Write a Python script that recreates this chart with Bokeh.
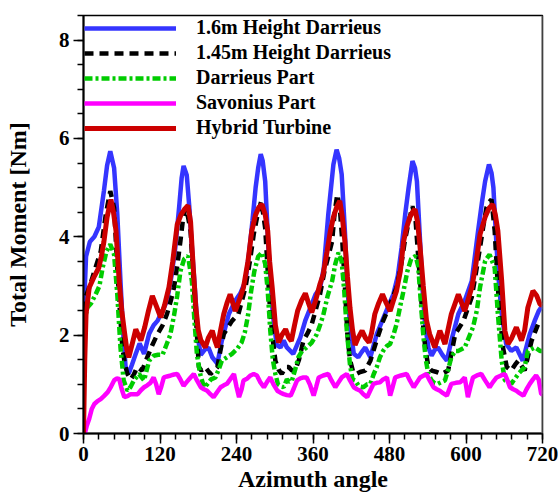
from bokeh.plotting import figure
from bokeh.models import SingleIntervalTicker, Legend, LegendItem, Span
from bokeh.embed import file_html
from bokeh.resources import INLINE

# ---------------- data ----------------
blue_x = [0, 4, 10, 17, 24, 32, 37, 42, 48, 53, 58, 62, 66, 71, 76, 82, 88, 95, 103, 110, 116, 124, 131, 138, 144,
          150, 154, 157, 162, 166, 170, 175, 180, 184, 190, 196, 202, 210, 217, 228, 238, 246, 254, 260, 265, 270,
          274, 278, 281, 285, 290, 297, 303, 309, 314, 319, 329, 340, 348, 356, 364, 371, 377, 384, 392, 397, 401,
          405, 410, 414, 418, 424, 431, 436, 442, 450, 460, 473, 486, 493, 499, 505, 510, 516, 520, 523, 528, 532,
          536, 541, 546, 551, 556, 563, 570, 577, 588, 598, 609, 619, 625, 630, 636, 640, 643, 648, 652, 656, 663,
          671, 679, 689, 700, 708, 714, 720]
blue_y = [2.3, 3.6, 3.9, 4.0, 4.2, 4.93, 5.45, 5.74, 5.4, 4.46, 3.1, 2.1, 1.35, 1.22, 1.4, 1.62, 1.83, 1.62, 2.03,
          2.2, 2.29, 2.5, 2.7, 3.2, 3.78, 4.6, 5.2, 5.44, 5.25, 4.6, 3.8, 2.9, 1.9, 1.6, 1.7, 1.75, 1.55, 1.42, 1.89,
          2.43, 2.7, 2.85, 3.1, 3.7, 4.32, 5.0, 5.4, 5.68, 5.55, 5.13, 3.78, 2.43, 1.8, 1.75, 1.89, 1.75, 1.62, 1.95,
          2.3, 2.56, 2.83, 2.95, 3.37, 4.46, 5.47, 5.77, 5.6, 5.27, 4.12, 3.0, 2.2, 1.62, 1.55, 1.65, 1.75, 1.55,
          2.02, 2.43, 2.83, 3.2, 3.78, 4.5, 5.0, 5.54, 5.4, 5.13, 3.9, 2.9, 2.2, 1.75, 1.58, 1.7, 1.75, 1.6, 1.48,
          1.89, 2.43, 2.7, 3.1, 4.12, 4.7, 5.13, 5.47, 5.3, 5.0, 3.78, 3.0, 2.43, 1.82, 1.68, 1.75, 1.48, 2.02, 2.3,
          2.49, 2.6]

black_x = [0, 4, 10, 17, 27, 35, 42, 48, 53, 57, 61, 65, 69, 74, 79, 84, 92, 100, 108, 116, 124, 131, 137, 142,
           147, 152, 156, 160, 164, 168, 172, 176, 181, 185, 191, 199, 205, 210, 215, 220, 226, 233, 243, 254, 261,
           267, 273, 279, 285, 289, 293, 297, 301, 306, 311, 317, 322, 327, 332, 338, 345, 352, 358, 364, 371, 378,
           384, 390, 394, 398, 402, 406, 410, 414, 418, 423, 428, 434, 442, 450, 460, 470, 480, 491, 498, 504, 510,
           516, 521, 525, 528, 532, 536, 541, 546, 554, 562, 572, 583, 596, 609, 616, 622, 627, 632, 636, 640, 645,
           650, 654, 658, 664, 671, 677, 682, 692, 703, 713, 720]
black_y = [2.5, 2.8, 3.0, 3.3, 3.7, 4.46, 4.93, 4.59, 3.37, 2.5, 1.75, 1.4, 1.21, 1.1, 1.2, 1.35, 1.28, 1.55, 1.8,
           2.02, 2.2, 2.43, 2.7, 2.97, 3.4, 3.91, 4.35, 4.59, 4.4, 4.12, 3.2, 2.43, 1.35, 1.28, 1.35, 1.21, 1.28,
           1.35, 1.7, 2.02, 2.15, 2.29, 2.43, 2.97, 3.5, 4.05, 4.45, 4.73, 4.18, 3.3, 2.43, 1.9, 1.48, 1.3, 1.21,
           1.35, 1.35, 1.28, 1.28, 1.5, 1.89, 2.05, 2.22, 2.5, 2.83, 3.3, 3.6, 3.91, 4.5, 4.86, 4.6, 3.9, 3.0, 2.0,
           1.5, 1.25, 1.21, 1.25, 1.28, 1.48, 1.9, 2.29, 2.6, 2.97, 3.4, 3.91, 4.3, 4.62, 4.32, 3.6, 3.1, 2.3, 1.75,
           1.35, 1.28, 1.25, 1.21, 1.28, 2.02, 2.29, 2.77, 3.3, 3.78, 4.2, 4.59, 4.7, 4.76, 4.12, 2.97, 2.3, 1.75,
           1.35, 1.28, 1.4, 1.48, 1.28, 1.89, 2.22, 2.25]

green_x = [0, 6, 12, 19, 25, 30, 36, 42, 48, 53, 58, 63, 69, 74, 79, 87, 95, 103, 110, 117, 124, 130, 136, 142,
           147, 152, 158, 164, 170, 174, 178, 183, 189, 194, 200, 207, 212, 217, 225, 233, 241, 248, 253, 258, 263,
           268, 274, 280, 285, 289, 293, 297, 301, 305, 310, 314, 319, 323, 327, 332, 337, 343, 350, 358, 366, 371,
           376, 383, 390, 395, 400, 405, 409, 413, 418, 422, 426, 432, 439, 445, 450, 455, 460, 465, 470, 476, 481,
           486, 491, 497, 502, 508, 514, 521, 525, 529, 533, 537, 541, 546, 551, 556, 562, 567, 572, 577, 583, 588,
           598, 611, 617, 622, 630, 637, 645, 650, 656, 661, 671, 682, 692, 697, 708, 716, 720]
green_y = [2.2, 2.56, 2.65, 2.83, 3.0, 3.37, 3.7, 3.85, 3.64, 2.83, 1.75, 1.08, 0.87, 0.95, 1.08, 1.21, 1.08, 1.48,
           1.58, 1.6, 1.6, 1.8, 2.0, 2.4, 2.8, 3.3, 3.55, 3.61, 3.1, 2.3, 1.6, 1.21, 0.94, 1.0, 1.1, 1.14, 1.3, 1.48,
           1.55, 1.62, 1.72, 1.85, 2.05, 2.4, 2.9, 3.3, 3.6, 3.68, 3.45, 2.9, 2.09, 1.5, 1.21, 1.0, 0.96, 0.94, 1.1,
           1.05, 1.08, 1.3, 1.55, 1.68, 1.75, 1.85, 2.02, 2.2, 2.4, 2.8, 3.1, 3.45, 3.68, 3.5, 2.9, 2.1, 1.4, 1.1,
           1.08, 0.96, 0.94, 1.0, 1.01, 1.2, 1.35, 1.55, 1.68, 1.78, 1.82, 2.0, 2.22, 2.6, 2.9, 3.3, 3.55, 3.61, 3.4,
           2.7, 2.0, 1.5, 1.2, 1.08, 1.02, 1.01, 1.05, 1.08, 1.3, 1.55, 1.68, 1.68, 1.75, 2.16, 2.5, 2.97, 3.51, 3.64,
           3.37, 2.43, 1.48, 1.08, 1.01, 1.21, 1.35, 1.68, 1.75, 1.68, 1.68]

magenta_x = [2, 5, 9, 13, 17, 22, 27, 32, 38, 43, 48, 52, 56, 60, 64, 69, 74, 79, 85, 90, 95, 100, 105, 110, 114,
             118, 122, 126, 131, 137, 142, 147, 152, 157, 162, 168, 173, 178, 184, 189, 194, 199, 204, 210, 215,
             220, 225, 230, 236, 240, 244, 248, 251, 257, 262, 267, 272, 277, 283, 288, 293, 298, 304, 309, 314,
             319, 325, 330, 335, 340, 345, 350, 355, 361, 365, 369, 376, 384, 389, 395, 400, 405, 413, 418, 424,
             429, 434, 439, 445, 450, 455, 460, 465, 470, 476, 481, 485, 489, 498, 507, 512, 518, 523, 528, 538,
             543, 549, 554, 559, 564, 570, 577, 584, 591, 598, 603, 607, 611, 617, 624, 630, 637, 642, 648, 655,
             661, 665, 669, 674, 679, 684, 690, 695, 700, 705, 710, 714, 718, 720]
magenta_y = [0.0, 0.15, 0.3, 0.5, 0.6, 0.66, 0.7, 0.76, 0.84, 0.95, 1.08, 1.12, 1.11, 0.9, 0.74, 0.76, 0.8, 0.8,
             0.8, 0.88, 0.94, 0.98, 1.03, 1.14, 1.0, 0.8, 0.95, 1.14, 1.16, 1.18, 1.2, 1.21, 1.1, 0.97, 1.05, 1.14,
             1.21, 1.08, 0.94, 0.9, 0.87, 0.8, 0.74, 0.85, 0.94, 0.98, 1.01, 1.1, 1.21, 0.95, 0.74, 0.9, 1.08, 1.12,
             1.18, 1.21, 1.18, 1.05, 0.94, 1.05, 1.14, 1.0, 0.87, 0.83, 0.8, 0.78, 0.77, 0.92, 1.08, 1.12, 1.14,
             1.14, 1.0, 0.77, 0.95, 1.14, 1.18, 1.21, 1.08, 0.94, 1.04, 1.14, 1.21, 1.08, 0.94, 0.9, 0.87, 0.8,
             0.74, 0.88, 1.01, 1.03, 1.04, 1.1, 1.14, 0.77, 0.95, 1.14, 1.18, 1.21, 1.08, 0.94, 1.04, 1.14, 1.21,
             1.08, 0.94, 0.9, 0.87, 0.82, 0.77, 1.01, 1.03, 1.04, 1.14, 0.74, 0.95, 1.14, 1.18, 1.21, 1.08, 0.94,
             1.04, 1.14, 1.18, 1.21, 1.08, 0.94, 0.9, 0.87, 0.82, 0.77, 0.9, 1.01, 1.1, 1.18, 1.1, 0.8, 0.8]

red_x = [0, 2, 4, 9, 16, 24, 28, 32, 37, 43, 47, 51, 56, 60, 64, 68, 71, 76, 82, 86, 90, 96, 102, 108, 114, 121,
         127, 134, 140, 147, 153, 158, 164, 168, 172, 176, 180, 184, 191, 196, 202, 206, 210, 215, 220, 225, 230,
         238, 244, 251, 258, 264, 270, 275, 280, 285, 289, 292, 296, 301, 306, 311, 317, 322, 326, 331, 336, 342,
         348, 353, 358, 364, 371, 376, 382, 387, 392, 397, 402, 406, 410, 414, 418, 422, 426, 431, 437, 442, 448,
         452, 457, 463, 469, 475, 481, 486, 491, 497, 502, 507, 512, 516, 520, 524, 528, 533, 538, 543, 551, 559,
         567, 577, 588, 598, 609, 615, 622, 630, 636, 642, 646, 650, 656, 661, 666, 672, 679, 687, 692, 697, 705,
         711, 716, 720]
red_y = [0.0, 1.5, 2.43, 2.97, 3.17, 3.37, 3.6, 3.9, 4.4, 4.76, 4.5, 4.12, 3.1, 2.5, 2.09, 1.7, 1.55, 1.8, 2.12,
         2.0, 1.89, 2.16, 2.5, 2.8, 2.6, 2.36, 2.6, 2.97, 3.5, 4.25, 4.45, 4.55, 4.64, 4.3, 3.4, 2.6, 2.1, 1.9, 1.75,
         1.95, 2.09, 1.9, 1.75, 2.1, 2.43, 2.65, 2.83, 2.49, 2.7, 2.97, 3.5, 4.12, 4.45, 4.6, 4.66, 4.45, 4.12,
         3.5, 2.97, 2.2, 1.85, 2.0, 2.12, 1.95, 1.88, 2.2, 2.5, 2.7, 2.85, 2.65, 2.46, 2.7, 3.04, 3.24, 3.7, 4.1,
         4.4, 4.6, 4.73, 4.4, 3.91, 3.2, 2.56, 2.1, 1.8, 1.95, 2.09, 1.95, 1.85, 2.05, 2.43, 2.65, 2.83, 2.65, 2.49,
         2.7, 2.9, 3.3, 3.9, 4.2, 4.4, 4.5, 4.56, 4.3, 3.78, 3.0, 2.3, 2.02, 1.75, 2.09, 1.82, 2.43, 2.83, 2.49,
         2.97, 3.4, 4.05, 4.4, 4.58, 4.66, 4.45, 4.12, 3.1, 2.09, 1.82, 1.95, 2.16, 1.89, 2.1, 2.56, 2.9, 2.8, 2.63,
         2.6]

labels = ["1.6m Height Darrieus", "1.45m Height Darrieus", "Darrieus Part", "Savonius Part", "Hybrid Turbine"]
x_ticks_interval = 120
y_ticks_interval = 2

FONT = "Liberation Serif"

p = figure(width=558, height=495, x_range=(0, 720), y_range=(0, 8.5),
           output_backend="svg", toolbar_location=None,
           min_border_left=83, min_border_right=16, min_border_top=15, min_border_bottom=62)
p.background_fill_color = "white"
p.border_fill_color = "white"
p.xgrid.visible = False
p.ygrid.visible = False
p.outline_line_color = "black"
p.outline_line_width = 1.5

r_blue = p.line(blue_x, blue_y, line_color="#3535FF", line_width=4.5)
r_black = p.line(black_x, black_y, line_color="black", line_width=4.5, line_dash="9 6")
r_green = p.line(green_x, green_y, line_color="#00CC00", line_width=4.5, line_dash="8 3 3 3")
r_mag = p.line(magenta_x, magenta_y, line_color="#FF00FF", line_width=4.5)
r_red = p.line(red_x, red_y, line_color="#CC0000", line_width=5)

p.add_layout(Span(location=720, dimension="height", line_color="#808080", line_width=2))

p.xaxis.ticker = SingleIntervalTicker(interval=x_ticks_interval, num_minor_ticks=5)
p.yaxis.ticker = SingleIntervalTicker(interval=y_ticks_interval, num_minor_ticks=4)

for ax in (p.xaxis[0], p.yaxis[0]):
    ax.axis_line_width = 2
    ax.axis_line_color = "black"
    ax.major_tick_line_width = 1.5
    ax.minor_tick_line_width = 1.5
    ax.major_tick_out = 10
    ax.major_tick_in = 0
    ax.minor_tick_out = 6
    ax.minor_tick_in = 0
    ax.major_label_text_font = FONT
    ax.major_label_text_font_style = "bold"
    ax.major_label_text_font_size = "21px"
    ax.major_label_text_color = "black"
    ax.axis_label_text_font = FONT
    ax.axis_label_text_font_style = "bold"
    ax.axis_label_text_font_size = "24px"
    ax.axis_label_text_color = "black"

p.xaxis.axis_label = "Azimuth angle"
p.yaxis.axis_label = "Total Moment [Nm]"
p.xaxis.major_label_standoff = 3
p.xaxis.axis_label_standoff = 2
p.yaxis.major_label_standoff = 4
p.yaxis.axis_label_standoff = 25

legend = Legend(items=[LegendItem(label=lab, renderers=[r]) for lab, r in
                       zip(labels, [r_blue, r_black, r_green, r_mag, r_red])],
                location="top_left")
legend.margin = 0
legend.padding = 1
legend.border_line_alpha = 0
legend.background_fill_alpha = 0
legend.glyph_width = 92
legend.glyph_height = 20
legend.label_height = 20
legend.spacing = 2
legend.label_standoff = 20
legend.label_text_font = FONT
legend.label_text_font_style = "bold"
legend.label_text_font_size = "20px"
legend.label_text_color = "black"
p.add_layout(legend)

open("out.html", "w").write(file_html(p, INLINE))
